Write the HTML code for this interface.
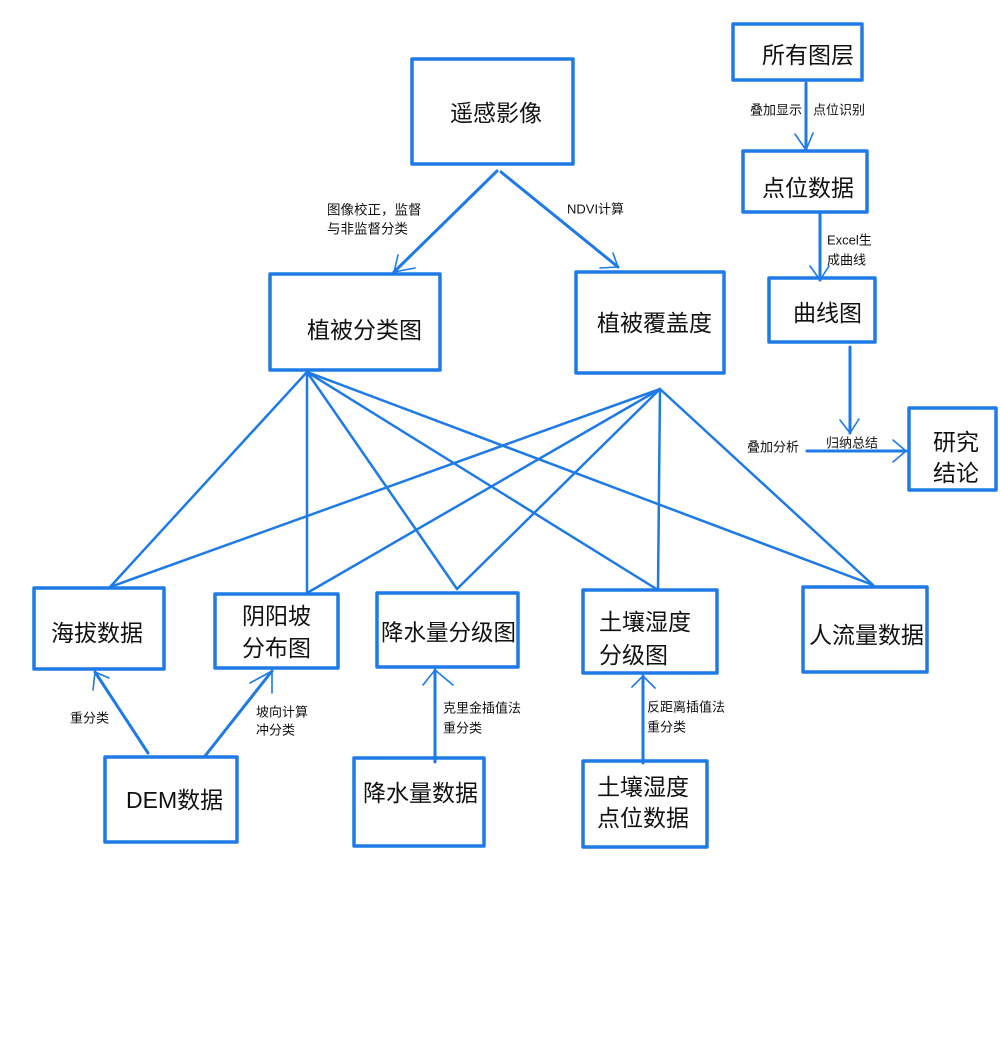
<!DOCTYPE html>
<html><head><meta charset="utf-8"><style>
html,body{margin:0;padding:0;background:#fff;}
svg{display:block;}
text{font-family:"Liberation Sans","Noto Sans CJK SC",sans-serif;fill:#111;dominant-baseline:central;}
.b{font-size:23px;}
.s{font-size:13px;}
</style></head><body>
<svg width="1000" height="1056" viewBox="0 0 1000 1056" xmlns="http://www.w3.org/2000/svg">
<g fill="none" stroke="#1e7ae6" stroke-linecap="round" stroke-linejoin="round">
<!-- boxes -->
<g stroke-width="3.5">
<rect x="412" y="59" width="161" height="105"/>
<rect x="270" y="274" width="170" height="96"/>
<rect x="576" y="272" width="148" height="101"/>
<rect x="733" y="24" width="129" height="56"/>
<rect x="743" y="151" width="124" height="61"/>
<rect x="769" y="278" width="106" height="64"/>
<rect x="909" y="408" width="87" height="82"/>
<rect x="34" y="588" width="130" height="81"/>
<rect x="215" y="594" width="123" height="74"/>
<rect x="377" y="593" width="141" height="74"/>
<rect x="583" y="590" width="134" height="83"/>
<rect x="803" y="587" width="124" height="85"/>
<rect x="105" y="757" width="132" height="85"/>
<rect x="354" y="758" width="130" height="88"/>
<rect x="583" y="761" width="124" height="86"/>
</g>
<!-- fan lines -->
<g stroke-width="2.5">
<line x1="307" y1="372" x2="110" y2="587"/>
<line x1="307" y1="372" x2="307" y2="593"/>
<line x1="307" y1="372" x2="457" y2="589"/>
<line x1="307" y1="372" x2="658" y2="590"/>
<line x1="307" y1="372" x2="873" y2="585"/>
<line x1="660" y1="389" x2="110" y2="587"/>
<line x1="660" y1="389" x2="307" y2="593"/>
<line x1="660" y1="389" x2="457" y2="589"/>
<line x1="660" y1="389" x2="658" y2="590"/>
<line x1="660" y1="389" x2="873" y2="585"/>
</g>
<!-- arrows -->
<g stroke-width="3">
<line x1="497" y1="171" x2="394" y2="272"/>
<line x1="501" y1="172" x2="618" y2="267"/>
<line x1="806" y1="83" x2="806" y2="150"/>
<line x1="820" y1="212" x2="820" y2="280"/>
<line x1="850" y1="347" x2="850" y2="433"/>
<line x1="807" y1="451" x2="906" y2="451"/>
<line x1="148" y1="753" x2="95" y2="672"/>
<line x1="205" y1="756" x2="272" y2="671"/>
<line x1="435" y1="762" x2="435" y2="670"/>
<line x1="643" y1="763" x2="643" y2="676"/>
</g>
<g stroke-width="1.6">
<polyline points="398,255 394,272 415,268"/>
<polyline points="600,268 618,267 613,253"/>
<polyline points="795,134 806,150 813,133"/>
<polyline points="810,266 820,280 829,266"/>
<polyline points="840,420 850,433 859,419"/>
<polyline points="893,440 906,451 893,462"/>
<polyline points="93,690 95,672 109,678"/>
<polyline points="250,683 272,671 272,693"/>
<polyline points="423,685 435,670 453,685"/>
<polyline points="632,687 643,676 655,688"/>
</g>
</g>
<!-- box labels -->
<text class="b" x="450" y="113">遥感影像</text>
<text class="b" x="307" y="330">植被分类图</text>
<text class="b" x="597" y="323">植被覆盖度</text>
<text class="b" x="762" y="55">所有图层</text>
<text class="b" x="762" y="188">点位数据</text>
<text class="b" x="793" y="313">曲线图</text>
<text class="b" x="933" y="442">研究</text>
<text class="b" x="933" y="473">结论</text>
<text class="b" x="51" y="633">海拔数据</text>
<text class="b" x="242" y="616">阴阳坡</text>
<text class="b" x="242" y="648">分布图</text>
<text class="b" x="381" y="633" style="font-size:22.5px">降水量分级图</text>
<text class="b" x="599" y="622">土壤湿度</text>
<text class="b" x="599" y="655">分级图</text>
<text class="b" x="809" y="635">人流量数据</text>
<text class="b" x="126" y="800">DEM数据</text>
<text class="b" x="363" y="793">降水量数据</text>
<text class="b" x="597" y="787">土壤湿度</text>
<text class="b" x="597" y="818">点位数据</text>
<!-- small labels -->
<text class="s" x="327" y="210" style="font-size:13.5px">图像校正，监督</text>
<text class="s" x="327" y="229" style="font-size:13.5px">与非监督分类</text>
<text class="s" x="567" y="209">NDVI计算</text>
<text class="s" x="750" y="110">叠加显示</text>
<text class="s" x="813" y="110">点位识别</text>
<text class="s" x="827" y="240">Excel生</text>
<text class="s" x="827" y="260">成曲线</text>
<text class="s" x="747" y="447">叠加分析</text>
<text class="s" x="826" y="443">归纳总结</text>
<text class="s" x="70" y="718">重分类</text>
<text class="s" x="256" y="712">坡向计算</text>
<text class="s" x="256" y="730">冲分类</text>
<text class="s" x="443" y="708">克里金插值法</text>
<text class="s" x="443" y="728">重分类</text>
<text class="s" x="647" y="707">反距离插值法</text>
<text class="s" x="647" y="727">重分类</text>
</svg>
</body></html>
